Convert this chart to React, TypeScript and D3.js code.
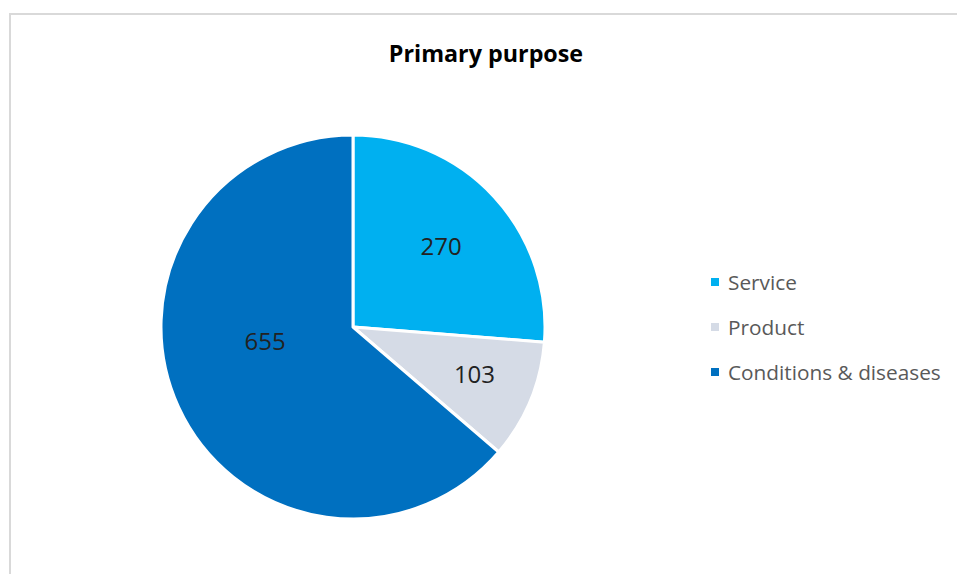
import * as d3 from "d3";
import { useEffect } from "react";

const categories = ["Service", "Product", "Conditions & diseases"];
const values = [270, 103, 655];
const colors = ["#00b0f0", "#d5dbe6", "#0070c0"];
const title = "Primary purpose";

const width = 957;
const height = 574;
const cx = 353;
const cy = 327;
const radius = 192;
// Excel's best-fit label placement, approximated per slice
const labelRadius = [120, 130, 89];
const labelShift = [0, -0.03, 0.28];

const App = () => {
    useEffect(() => {
        document.body.style.margin = "0";
    }, []);

    const pie = d3.pie<number>().sort(null).value(d => d);
    const arcs = pie(values);
    const arc = d3.arc<d3.PieArcDatum<number>>().innerRadius(0).outerRadius(radius);

    const legendY = d3.scalePoint<string>().domain(categories).range([282, 372]);

    return (
        <svg width={width} height={height} style={{ position: "absolute", left: 0, top: 0, fontFamily: "'Open Sans', sans-serif" }}>
            <rect x={0} y={0} width={width} height={height} fill="#fff" />
            <path d={`M10,${height} V14 H${width}`} fill="none" stroke="#d9d9d9" strokeWidth={2} />
            <text x={486} y={53} textAnchor="middle" dominantBaseline="central" fontSize={23.3} fontWeight="bold" fill="#000">{title}</text>
            <g transform={`translate(${cx},${cy})`}>
                {arcs.map((a, i) => (
                    <path key={i} d={arc(a) ?? ""} fill={colors[i]} stroke="#fff" strokeWidth={3} strokeLinejoin="round" />
                ))}
                {arcs.map((a, i) => {
                    const ang = (a.startAngle + a.endAngle) / 2 + labelShift[i];
                    return (
                        <text key={i} x={Math.sin(ang) * labelRadius[i]} y={-Math.cos(ang) * labelRadius[i]}
                            textAnchor="middle" dominantBaseline="central" fontSize={24} fill="#222">
                            {values[i]}
                        </text>
                    );
                })}
            </g>
            <g>
                {categories.map((c, i) => (
                    <g key={c} transform={`translate(711,${legendY(c)})`}>
                        <rect x={0} y={-4} width={8} height={8} fill={colors[i]} />
                        <text x={17} y={0} dominantBaseline="central" fontSize={20.8} fill="#595959">{c}</text>
                    </g>
                ))}
            </g>
        </svg>
    );
};

export default App;
